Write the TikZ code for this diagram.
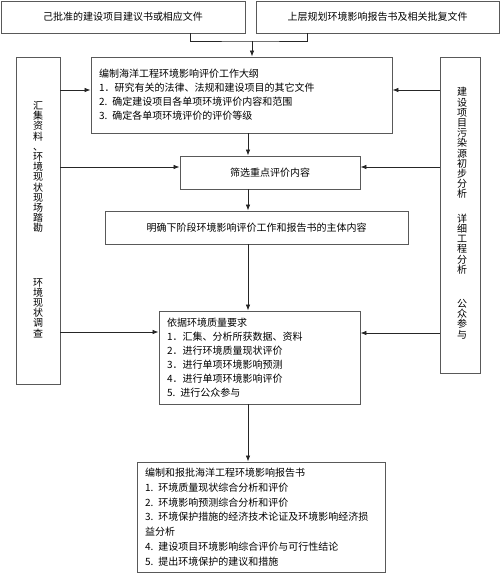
\documentclass[tikz,border=0pt]{standalone}
\usepackage{fontspec}
\setmainfont{Noto Sans CJK SC}
\usetikzlibrary{arrows.meta}
\tikzset{box/.style={draw=black!65,line width=0.9pt,inner sep=0pt,font=\fontsize{10}{14}\selectfont},
listbox/.style={box,align=left,inner xsep=8pt},
vtext/.style={font=\fontsize{10}{10.2}\selectfont,align=center,inner sep=0pt},
link/.style={line width=0.7pt,black!85}}

\begin{document}
\begin{tikzpicture}[x=1pt,y=-1pt,>={Latex[length=6pt,width=4.5pt]}]
\useasboundingbox (0,0) rectangle (500,573);
\node[box,minimum width=244,minimum height=32] (proj) at (123,17) {己批准的建设项目建议书或相应文件};
\node[box,minimum width=243,minimum height=32] (plan) at (377.5,17) {上层规划环境影响报告书及相关批复文件};
\node[listbox,text width=285,minimum height=76] (outline) at (241.5,95) {编制海洋工程环境影响评价工作大纲\\1．研究有关的法律、法规和建设项目的其它文件\\2. 确定建设项目各单项环境评价内容和范围\\3. 确定各单项环境评价的评价等级};
\node[box,minimum width=180,minimum height=33] (filter) at (270,172.5) {筛选重点评价内容};
\node[box,minimum width=303,minimum height=33] (mainc) at (256.5,227.5) {明确下阶段环境影响评价工作和报告书的主体内容};
\node[listbox,text width=185,minimum height=93] (req) at (259.5,357.5) {依据环境质量要求\\1．汇集、分析所获数据、资料\\2．进行环境质量现状评价\\3．进行单项环境影响预测\\4．进行单项环境影响评价\\5. 进行公众参与};
\node[listbox,text width=232,minimum height=110,font=\fontsize{10}{14.8}\selectfont] (report) at (261,517) {编制和报批海洋工程环境影响报告书\\1. 环境质量现状综合分析和评价\\2. 环境影响预测综合分析和评价\\3. 环境保护措施的经济技术论证及环境影响经济损\\益分析\\4. 建设项目环境影响综合评价与可行性结论\\5. 提出环境保护的建议和措施};
\node[box,minimum width=44,minimum height=327] (lcol) at (38,220.5) {};
\node[box,minimum width=40,minimum height=316] (rcol) at (460,215) {};
\node[vtext] (lcolA) at (38,167) {汇\\集\\资\\料\\、\\环\\境\\现\\状\\现\\场\\踏\\勘};
\node[vtext] (lcolB) at (38,308) {环\\境\\现\\状\\调\\查};
\node[vtext] (rcolA) at (462,143) {建\\设\\项\\目\\污\\染\\源\\初\\步\\分\\析};
\node[vtext] (rcolB) at (462,244) {详\\细\\工\\程\\分\\析};
\node[vtext] (rcolC) at (462,319) {公\\众\\参\\与};
\coordinate (pl) at (190,0); \coordinate (pr) at (307,0);
\coordinate (join) at (252,41); \coordinate (spine) at (248,0);
\draw[link] (proj.south -| pl) |- (join) -| (plan.south -| pr);
\draw[link,->] (join) -- (join |- outline.north);
\foreach \tgt/\yy in {outline/90,filter/167,req/332}{
\coordinate (row) at (0,\yy); \draw[link,->] (lcol.east |- row) -- (\tgt.west |- row);}
\foreach \tgt/\yy in {outline/90,filter/167,req/333}{
\coordinate (row) at (0,\yy); \draw[link,->] (rcol.west |- row) -- (\tgt.east |- row);}
\foreach \a/\b in {outline/filter,filter/mainc,mainc/req,req/report}
\draw[link,->] (\a.south -| spine) -- (\b.north -| spine);
\end{tikzpicture}
\end{document}
